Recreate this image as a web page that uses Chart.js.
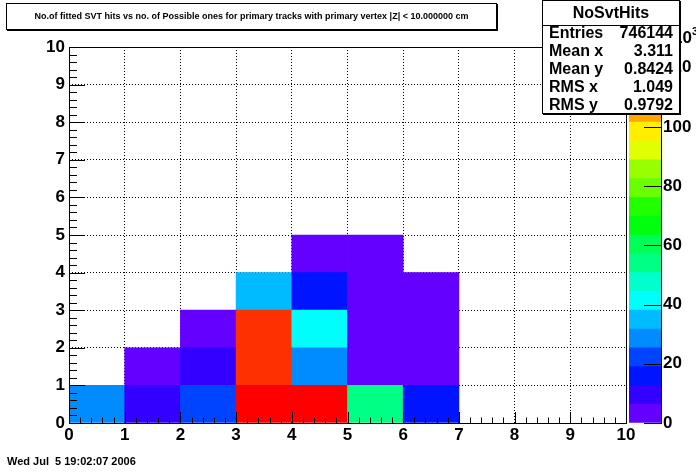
<!DOCTYPE html>
<html>
<head>
<meta charset="utf-8">
<script src="https://cdn.jsdelivr.net/npm/chart.js@4.4.0/dist/chart.umd.min.js"></script>
<style>
  body { margin: 0; background: #fff; }
  #wrap { position: relative; width: 696px; height: 472px; overflow: hidden;
          font-family: "Liberation Sans", Arial, sans-serif; font-weight: bold; color: #000; }
  canvas { position: absolute; left: 0; top: 0; }
  .box { position: absolute; background: #fff; border: 1px solid #000; box-shadow: 1px 1px 0 #000; box-sizing: border-box; overflow: hidden; }
  #title { left: 6px; top: 3px; width: 491px; height: 27px; font-size: 9px; line-height: 25px; text-align: center; white-space: nowrap; }
  #stats { left: 542px; top: 0px; width: 138px; height: 114px; font-size: 16px; }
  #stats .head { height: 24px; line-height: 24px; text-align: center; border-bottom: 1px solid #000; }
  #stats .rows { position: relative; top: -2px; }
  #stats .row { height: 18px; line-height: 18px; display: flex; justify-content: space-between; padding: 0 6px 0 6px; }
  #expo { position: absolute; left: 673px; top: 26px; font-size: 17px; }
  #expo sup { font-size: 11px; position: relative; top: -1px; }
  #date { position: absolute; left: 7px; top: 455px; font-size: 11px; white-space: pre; }
</style>
</head>
<body>
<div id="wrap">
  <canvas id="chart" width="696" height="472"></canvas>
  <canvas id="palette" width="696" height="472"></canvas>
  <div id="expo">10<sup>3</sup></div>
  <div id="title" class="box">No.of fitted SVT hits vs no. of Possible ones for primary tracks with primary vertex |Z| &lt; 10.000000 cm</div>
  <div id="stats" class="box">
    <div class="head">NoSvtHits</div>
    <div class="rows">
      <div class="row"><span>Entries</span><span>746144</span></div>
      <div class="row"><span>Mean x</span><span>3.311</span></div>
      <div class="row"><span>Mean y</span><span>0.8424</span></div>
      <div class="row"><span>RMS x</span><span>1.049</span></div>
      <div class="row"><span>RMS y</span><span>0.9792</span></div>
    </div>
  </div>
  <div id="date">Wed Jul  5 19:02:07 2006</div>
</div>
<script>
// bin edges of the 2D histogram
const xEdges = [0, 1, 2, 3, 4, 5, 6, 7, 8, 9, 10];
const yEdges = [0, 1, 2, 3, 4, 5];

// bin contents (x 10^3), one array per y bin, indexed by x bin
const row0 = [29, 10, 22, 127, 124, 54, 16, 0, 0, 0];
const row1 = [0, 4, 9, 117, 28, 3, 3, 0, 0, 0];
const row2 = [0, 0, 3, 117, 40, 3, 2, 0, 0, 0];
const row3 = [0, 0, 0, 34, 15, 2, 2, 0, 0, 0];
const row4 = [0, 0, 0, 0, 1, 1, 0, 0, 0, 0];
const rows = [row0, row1, row2, row3, row4];

const axisTicks = [0, 1, 2, 3, 4, 5, 6, 7, 8, 9, 10];
const paletteTicks = [0, 20, 40, 60, 80, 100, 120];

const zMax = 127;
const nContours = 20;

// ROOT "pretty" palette: 50 colours violet -> red, 20 contours
function bandColor(i) {
    const k = Math.floor((i + 0.99) * 50 / nContours);
    const hue = 280 - (k + 1) * 5.6;
    return 'hsl(' + hue + ', 100%, 50%)';
}
function cellColor(v) {
    let i = Math.floor(0.01 + v * nContours / zMax);
    if (i > nContours - 1) i = nContours - 1;
    return bandColor(i);
}

const tickFont = { family: '"Liberation Sans", Arial, sans-serif', size: 17, weight: 'bold' };

const datasets = rows.map((row, j) => {
    const pts = [];
    row.forEach((v, i) => {
        if (v > 0) pts.push({ x: (xEdges[i] + xEdges[i + 1]) / 2, y: [yEdges[j], yEdges[j + 1]], v: v });
    });
    return {
        label: 'y bin ' + j,
        data: pts,
        backgroundColor: pts.map(p => cellColor(p.v)),
        borderWidth: 0,
        barPercentage: 1,
        categoryPercentage: 1,
        grouped: false
    };
});

const gridColor = ctx => (ctx.tick && (ctx.tick.value === 0 || ctx.tick.value === 10)) ? 'rgba(0,0,0,0)' : '#000';

// inward ticks + frame, ROOT style
const frameTicks = {
    id: 'frameTicks',
    afterDraw(chart) {
        const { ctx, chartArea: a, scales: { x, y } } = chart;
        ctx.save();
        ctx.strokeStyle = '#000';
        ctx.lineWidth = 1;
        ctx.beginPath();
        for (let i = 0; i <= 50; i++) {
            const v = i / 5;
            const major = i % 5 === 0;
            const px = Math.round(x.getPixelForValue(v)) + 0.5;
            ctx.moveTo(px, a.bottom);
            ctx.lineTo(px, a.bottom - (major ? 11 : 5.5));
            const py = Math.round(y.getPixelForValue(v)) + 0.5;
            ctx.moveTo(a.left, py);
            ctx.lineTo(a.left + (major ? 16 : 8), py);
        }
        ctx.stroke();
        ctx.strokeRect(Math.round(a.left) + 0.5, Math.round(a.top) + 0.5,
                       Math.round(a.right - a.left), Math.round(a.bottom - a.top));
        ctx.restore();
    }
};

new Chart(document.getElementById('chart'), {
    type: 'bar',
    data: { datasets: datasets },
    options: {
        responsive: false,
        animation: false,
        layout: { padding: { top: 47, right: 70, bottom: 24, left: 0 } },
        plugins: { legend: { display: false }, tooltip: { enabled: false } },
        scales: {
            x: {
                type: 'linear', min: 0, max: 10, z: 1, offset: false,
                afterBuildTicks: s => { s.ticks = axisTicks.map(v => ({ value: v })); },
                afterFit: s => { s.height = 25; },
                ticks: { font: tickFont, color: '#000', padding: 2, maxRotation: 0, autoSkip: false },
                grid: { color: gridColor, lineWidth: 1, drawTicks: false, offset: false },
                border: { display: false, dash: [1, 2] }
            },
            y: {
                type: 'linear', min: 0, max: 10, z: 1,
                afterBuildTicks: s => { s.ticks = axisTicks.map(v => ({ value: v })); },
                afterFit: s => { s.width = 69; },
                ticks: { font: tickFont, color: '#000', padding: 4, autoSkip: false },
                grid: { color: gridColor, lineWidth: 1, drawTicks: false },
                border: { display: false, dash: [1, 2] }
            }
        }
    },
    plugins: [frameTicks]
});

// colour palette
const bands = [];
for (let i = 0; i < nContours; i++) bands.push(i);

const paletteTickMarks = {
    id: 'paletteTickMarks',
    afterDraw(chart) {
        const { ctx, chartArea: a, scales: { y } } = chart;
        ctx.save();
        ctx.strokeStyle = '#000';
        ctx.lineWidth = 1;
        ctx.beginPath();
        paletteTicks.forEach(v => {
            const py = Math.round(y.getPixelForValue(v)) + 0.5;
            ctx.moveTo(a.right, py);
            ctx.lineTo(a.right - 17, py);
        });
        ctx.stroke();
        ctx.restore();
    }
};

new Chart(document.getElementById('palette'), {
    type: 'bar',
    data: {
        labels: ['z'],
        datasets: bands.map(i => ({
            label: 'band ' + i,
            data: [zMax / nContours],
            backgroundColor: bandColor(i),
            borderWidth: 0,
            barPercentage: 1,
            categoryPercentage: 1
        }))
    },
    options: {
        responsive: false,
        animation: false,
        layout: { padding: { top: 47, right: 0, bottom: 49, left: 629 } },
        plugins: { legend: { display: false }, tooltip: { enabled: false } },
        scales: {
            x: { display: false, stacked: true },
            y: {
                position: 'right', stacked: true, min: 0, max: zMax,
                afterBuildTicks: s => { s.ticks = paletteTicks.map(v => ({ value: v })); },
                afterFit: s => { s.width = 35; },
                ticks: { font: tickFont, color: '#000', padding: 2 },
                grid: { drawOnChartArea: false, drawTicks: false },
                border: { display: true, color: '#000', width: 1 }
            }
        }
    },
    plugins: [paletteTickMarks]
});
</script>
</body>
</html>
